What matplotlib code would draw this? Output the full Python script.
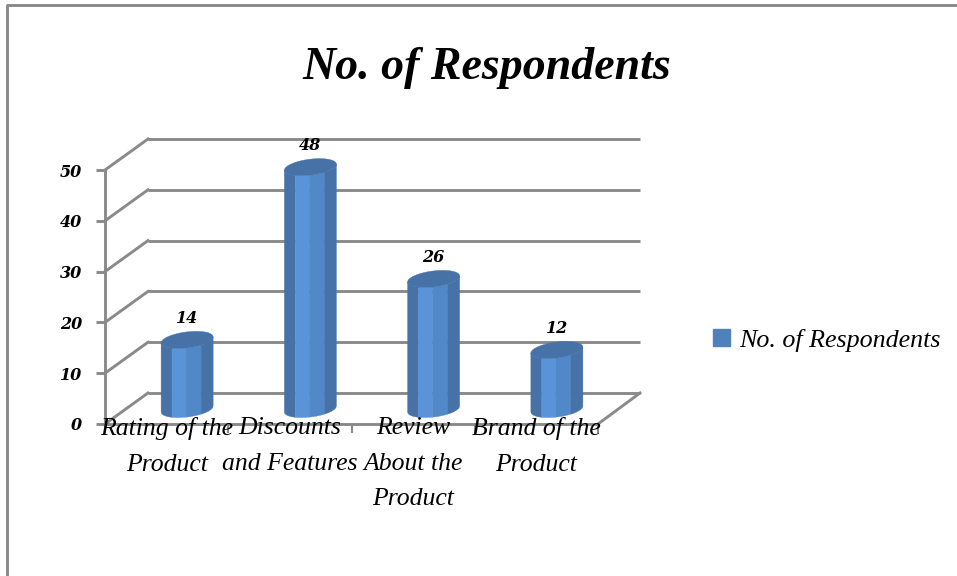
import numpy as np
import matplotlib
matplotlib.use("Agg")
import matplotlib.pyplot as plt
from matplotlib.lines import Line2D
from matplotlib.patches import Patch

# data
categories = ["Rating of the\nProduct", "Discounts\nand Features",
              "Review\nAbout the\nProduct", "Brand of the\nProduct"]
respondents = [14, 48, 26, 12]
y_ticks = [0, 10, 20, 30, 40, 50]
series_name = "No. of Respondents"

GRID = "#8A8A8A"
DARK = "#4672A8"
LIGHT = "#5B93D8"
MID = "#5088C8"
LEGEND = "#4F81BD"
FONT = "Liberation Serif"
NUM_FONT = "DejaVu Serif"

W, H = 957, 576
fig = plt.figure(figsize=(W / 100, H / 100), dpi=100)

# front plane of the fake 3D box, pixel position
x0, x1, y_bot, y_top = 105, 598, 424, 170
ax = fig.add_axes([x0 / W, 1 - y_bot / H, (x1 - x0) / W, (y_bot - y_top) / H])
ax.set_xlim(0, 4)
ax.set_ylim(0, 50)

px_x = 4 / (x1 - x0)
px_y = 50 / (y_bot - y_top)

# depth of the box
dx = 43 * px_x
dy = 31 * px_y

# back wall and left wall
for v in y_ticks:
    ax.plot([dx, 4 + 42 * px_x], [v + dy, v + dy], color=GRID, lw=2.1,
            clip_on=False, zorder=1, solid_capstyle="butt")
    ax.plot([0, dx], [v, v + dy], color=GRID, lw=2.1, clip_on=False, zorder=1)
ax.plot([4, 4 + 42 * px_x], [0, dy], color=GRID, lw=2.1, clip_on=False, zorder=1)

# cylinders
a = 26 * px_x
b = 8 * px_y
tilt = 3 * px_y
shift_x = 20.5 * px_x
base_y = 15 * px_y
top_y = 13 * px_y
strips = [(-1, -0.58, DARK), (-0.58, -0.04, LIGHT), (-0.04, 0.54, MID), (0.54, 1, DARK)]


def front_curve(xc, yc, u0, u1):
    u = np.linspace(u0, u1, 30)
    return xc + a * u, yc - b * np.sqrt(1 - u ** 2) + tilt * u


for i, value in enumerate(respondents):
    xc = i + 0.5 + shift_x
    for u0, u1, colour in strips:
        xs, ys = front_curve(xc, base_y, u0, u1)
        xt, yt = front_curve(xc, top_y + value, u0, u1)
        ax.fill(np.r_[xs, xt[::-1]], np.r_[ys, yt[::-1]], color=colour, lw=0.3,
                clip_on=False, zorder=3)
    t = np.linspace(0, 2 * np.pi, 80)
    ax.fill(xc + a * np.cos(t), top_y + value + b * np.sin(t) + tilt * np.cos(t),
            color=DARK, lw=0.3, clip_on=False, zorder=4)
    ax.text(xc, top_y + value + b + 1.0, str(value), ha="center", va="bottom",
            family=NUM_FONT, style="italic", weight="bold", fontsize=11.5, zorder=6)

# axes
for side in ["top", "right"]:
    ax.spines[side].set_visible(False)
for side in ["left", "bottom"]:
    ax.spines[side].set_color(GRID)
    ax.spines[side].set_linewidth(2.1)
ax.patch.set_visible(False)

ax.set_yticks(y_ticks)
ax.set_yticklabels([str(v) for v in y_ticks], family=NUM_FONT, style="italic",
                   weight="bold", fontsize=11.5)
ax.tick_params(axis="y", length=6.5, width=2.1, color=GRID, pad=10)

ax.set_xticks(range(5))
ax.set_xticklabels([])
ax.tick_params(axis="x", length=6.5, width=1.5, color=GRID)
for i, label in enumerate(categories):
    ax.annotate(label, (i + 0.5, 0), xytext=(0, 5), textcoords="offset points",
                ha="center", va="top", family=FONT, style="italic", fontsize=18.5,
                linespacing=1.8, annotation_clip=False, zorder=7)

# title and legend
fig.text(487 / W, 1 - 68 / H, series_name, ha="center", va="center", family=FONT,
         style="italic", weight="bold", fontsize=33)

fig.legend(handles=[Patch(color=LEGEND, label=series_name)], loc="center left",
           bbox_to_anchor=(713 / W, 1 - 340 / H), frameon=False,
           prop={"family": FONT, "style": "italic", "size": 18.7},
           handlelength=0.66, handleheight=0.66, handletextpad=0.35,
           borderpad=0, borderaxespad=0)

# outer border of the chart area
fig.add_artist(Line2D([7 / W, 7 / W, 1], [0, 1 - 5 / H, 1 - 5 / H], color=GRID, lw=2.1))

fig.savefig("out.png", dpi=100)
